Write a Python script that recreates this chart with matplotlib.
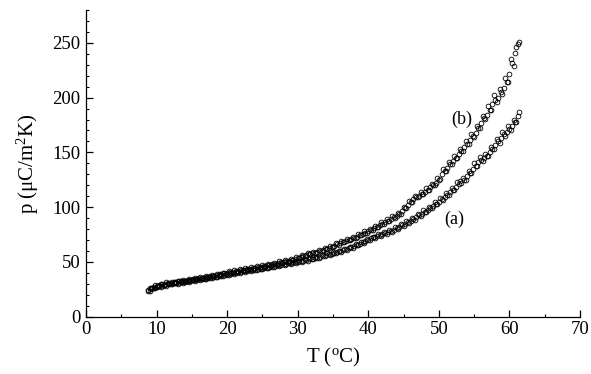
import matplotlib
matplotlib.use("Agg")
import matplotlib.pyplot as plt
from matplotlib.ticker import MultipleLocator

# first sweep of readings
T = [8.8, 9.2, 9.6, 10.0, 10.4, 10.8, 11.2, 11.6, 12.0, 12.4, 12.8, 13.2, 13.6, 14.0, 14.4, 14.8,
     15.2, 15.6, 16.0, 16.4, 16.8, 17.2, 17.6, 18.0, 18.4, 18.8, 19.2, 19.6, 20.0, 20.4, 20.8,
     21.2, 21.6, 22.0, 22.4, 22.8, 23.2, 23.6, 24.0, 24.4, 24.8, 25.2, 25.6, 26.0, 26.4, 26.8,
     27.2, 27.6, 28.0, 28.4, 28.8, 29.2, 29.6, 30.0, 30.4, 30.8, 31.2, 31.6, 32.0, 32.4, 32.8,
     33.2, 33.6, 34.0, 34.4, 34.8, 35.2, 35.6, 36.0, 36.4, 36.8, 37.2, 37.6, 38.0, 38.4, 38.8,
     39.2, 39.6, 40.0, 40.4, 40.8, 41.2, 41.6, 42.0, 42.4, 42.8, 43.2, 43.6, 44.0, 44.4, 44.8,
     45.2, 45.6, 46.0, 46.4, 46.8, 47.2, 47.6, 48.0, 48.4, 48.8, 49.2, 49.6, 50.0, 50.4, 50.8,
     51.2, 51.6, 52.0, 52.4, 52.8, 53.2, 53.6, 54.0, 54.4, 54.8, 55.2, 55.6, 56.0, 56.4, 56.8,
     57.2, 57.6, 58.0, 58.4, 58.8, 59.2, 59.6, 60.0, 60.4, 60.8, 61.2]

p_b = [24.5, 26, 27, 28, 28.8, 29.5, 30, 30.6, 31, 31.3, 31.8, 32.2, 32.5, 33, 33.3, 33.8,
       34.2, 34.8, 35.2, 35.5, 36, 36.5, 37, 37.5, 38, 38.6, 39, 39.5, 40, 40.4, 41,
       41.4, 42, 42.5, 43, 43.5, 44, 44.4, 44.8, 45.3, 45.8, 46.3, 46.9, 47.5, 48, 48.5,
       49, 49.5, 50, 50.6, 51.3, 52, 52.8, 53.5, 54.4, 55.3, 56.2, 57.2, 58, 58.6, 59.3,
       60, 60.8, 61.5, 62.6, 63.8, 65, 66, 67, 68, 69, 70, 71, 72, 73.2, 74.4,
       75.6, 76.8, 78, 79.4, 80.8, 82.2, 83.6, 85, 86.4, 87.8, 89.2, 90.6, 92, 94, 96.5,
       99, 102, 104.5, 107, 109.5, 110.5, 112, 114, 116, 118, 120, 122, 125, 130, 133,
       136, 139, 142, 145, 148.5, 151.5, 154.5, 158, 161, 165, 168, 172, 176.5, 181, 184.5,
       189, 194, 198, 200, 205, 209, 214, 222, 232, 241, 249]

p_a = [23.5, 25, 26, 27, 27.6, 28.2, 28.8, 29.4, 30, 30.4, 30.8, 31.2, 31.6, 32, 32.3, 32.7,
       33.2, 33.6, 34, 34.4, 34.8, 35.2, 35.6, 36, 36.5, 37, 37.5, 38, 38.5, 39, 39.5,
       40, 40.5, 41, 41.4, 41.8, 42.2, 42.6, 43, 43.4, 43.8, 44.3, 44.8, 45.3, 45.8, 46.4,
       47, 47.5, 48, 48.4, 48.8, 49.2, 49.6, 50, 50.6, 51.2, 51.8, 52.4, 53, 53.2, 53.6,
       54.5, 55.5, 56.4, 57, 57.6, 58.2, 59, 59.8, 60.6, 61.4, 62.3, 63.3, 64.5, 65.6, 66.8,
       68, 69.3, 70.3, 71.4, 72.4, 73.5, 74.5, 75.5, 76.5, 77.3, 78.3, 79.6, 81, 82.2, 83.5,
       84.8, 86, 87.5, 89, 90.8, 92.5, 94, 96, 97.6, 99.4, 101, 103, 105, 107.5, 109.5,
       111.5, 113.5, 116, 118.5, 121, 122.5, 124.5, 128, 131.5, 135, 138, 141.5, 143.5, 145, 147,
       150, 153.5, 157, 160, 163, 166.5, 169, 171.5, 174, 178, 183]

# second (interleaved) sweep of readings
T2 = [9.0, 9.4, 9.8, 10.2, 10.6, 11.0, 11.4, 11.8, 12.2, 12.6,
      13.0, 13.4, 13.8, 14.2, 14.6, 15.0, 15.4, 15.8, 16.2, 16.6,
      17.0, 17.4, 17.8, 18.2, 18.6, 19.0, 19.4, 19.8, 20.2, 20.6,
      21.0, 21.4, 21.8, 22.2, 22.6, 23.0, 23.4, 23.8, 24.2, 24.6,
      25.0, 25.4, 25.8, 26.2, 26.6, 27.0, 27.4, 27.8, 28.2, 28.6,
      29.0, 29.4, 29.8, 30.2, 30.6, 31.0, 31.4, 31.8, 32.2, 32.6,
      33.0, 33.4, 33.8, 34.2, 34.6, 35.0, 35.4, 35.8, 36.2, 36.6,
      37.0, 37.4, 37.8, 38.2, 38.6, 39.0, 39.4, 39.8, 40.2, 40.6,
      41.0, 41.4, 41.8, 42.2, 42.6, 43.0, 43.4, 43.8, 44.2, 44.6,
      45.0, 45.4, 45.8, 46.2, 46.6, 47.0, 47.4, 47.8, 48.2, 48.6,
      49.0, 49.4, 49.8, 50.2, 50.6, 51.0, 51.4, 51.8, 52.2, 52.6,
      53.0, 53.4, 53.8, 54.2, 54.6, 55.0, 55.4, 55.8, 56.2, 56.6,
      57.0, 57.4, 57.8, 58.2, 58.6, 59.0, 59.4, 59.8, 60.2, 60.6,
      61.0, 61.4]

p_b2 = [26.4, 25.8, 28.6, 27.8, 30.2, 29.2, 31.3, 30.3, 32.1, 31.0,
        33.0, 31.8, 33.8, 32.6, 34.6, 33.4, 35.5, 34.4, 36.4, 35.2,
        37.3, 36.2, 38.3, 37.2, 39.3, 38.3, 40.3, 39.2, 41.3, 40.2,
        42.3, 41.2, 43.3, 42.2, 44.3, 43.2, 45.3, 44.1, 46.1, 45.0,
        47.2, 46.0, 48.4, 47.2, 49.4, 48.2, 50.4, 49.2, 51.5, 50.4,
        52.8, 51.8, 54.3, 53.3, 56.0, 55.1, 57.9, 57.0, 59.5, 58.3,
        60.9, 59.8, 62.5, 61.4, 64.6, 63.8, 67.0, 65.8, 69.0, 67.8,
        71.0, 69.8, 73.0, 71.8, 75.4, 74.2, 77.8, 76.6, 80.3, 79.2,
        83.2, 82.0, 86.0, 84.8, 88.9, 87.6, 91.8, 90.4, 95.0, 94.2,
        99.8, 99.4, 105.5, 104.6, 110.6, 108.9, 113.6, 111.8, 117.5, 115.8,
        121.6, 119.8, 126.5, 126, 134.5, 133, 140.8, 139, 147, 145,
        153.5, 151, 160, 157.5, 167, 164.5, 174.5, 172, 183.5, 180.5,
        192, 189, 202, 196, 208, 203.5, 218, 214, 235, 229,
        246, 251]

p_a2 = [23.4, 26.3, 25.8, 28.0, 27.2, 29.2, 28.4, 30.5, 29.5, 31.4,
        30.3, 32.2, 31.1, 33.0, 31.8, 33.8, 32.7, 34.6, 33.5, 35.4,
        34.3, 36.2, 35.1, 37.1, 36.0, 38.1, 37.0, 39.1, 38.0, 40.1,
        39.0, 41.1, 40.0, 42.0, 40.8, 42.8, 41.6, 43.6, 42.4, 44.4,
        43.2, 45.4, 44.2, 46.4, 45.3, 47.6, 46.4, 48.6, 47.4, 49.5,
        48.2, 50.3, 49.0, 51.2, 50.1, 52.4, 51.3, 53.6, 52.3, 54.3,
        53.2, 56.0, 55.0, 57.7, 56.4, 58.9, 57.7, 60.4, 59.3, 62.0,
        60.9, 63.9, 62.9, 66.2, 65.1, 68.6, 67.5, 71.0, 69.7, 73.1,
        71.8, 75.2, 73.9, 77.3, 75.8, 79.1, 77.7, 81.7, 80.4, 84.3,
        82.9, 87.0, 85.5, 90.0, 88.6, 93.5, 91.9, 97.0, 95.4, 100.6,
        98.8, 104.3, 102.5, 108.8, 106.9, 113.2, 110.8, 117.6, 115.4, 122.8,
        124, 126.5, 124.5, 133, 131, 140, 137.5, 146, 142.5, 148.8,
        146.5, 155, 153, 162, 159, 168.5, 165, 174, 170, 180,
        177.5, 186.5]

x_ticks = [0, 10, 20, 30, 40, 50, 60, 70]
y_ticks = [0, 50, 100, 150, 200, 250]

plt.rcParams['font.family'] = ['Liberation Serif', 'DejaVu Serif']

fig = plt.figure(figsize=(5.91, 3.74), dpi=100)
ax = fig.add_axes([0.1455, 0.1532, 0.8359, 0.8201])

mk = dict(linestyle='none', marker='o', ms=3.4, mfc='none', mec='black', mew=0.6)
ax.plot(T, p_b, **mk)
ax.plot(T2, p_b2, **mk)
ax.plot(T, p_a, **mk)
ax.plot(T2, p_a2, **mk)

ax.set_xlim(0, 70)
ax.set_ylim(0, 280)
ax.set_xticks(x_ticks)
ax.set_yticks(y_ticks)
ax.xaxis.set_minor_locator(MultipleLocator(5))
ax.yaxis.set_minor_locator(MultipleLocator(10))
ax.tick_params(which='both', direction='in', labelsize=13.5, colors='black')
ax.tick_params(which='major', length=5, width=0.9)
ax.tick_params(which='minor', length=2.5, width=0.8)
ax.tick_params(axis='x', pad=3)
ax.tick_params(axis='y', pad=4)
for s in ['top', 'right']:
    ax.spines[s].set_visible(False)
for s in ['left', 'bottom']:
    ax.spines[s].set_linewidth(0.9)

ax.set_xlabel('T ($\\mathregular{^{o}}$C)', fontsize=15, labelpad=6)
ax.set_ylabel('p (μC/m$\\mathregular{^{2}}$K)', fontsize=15, labelpad=8)

ax.text(53.2, 180, '(b)', fontsize=13, ha='center', va='center')
ax.text(52.2, 88.5, '(a)', fontsize=13, ha='center', va='center')

fig.savefig('out.png', dpi=100)
